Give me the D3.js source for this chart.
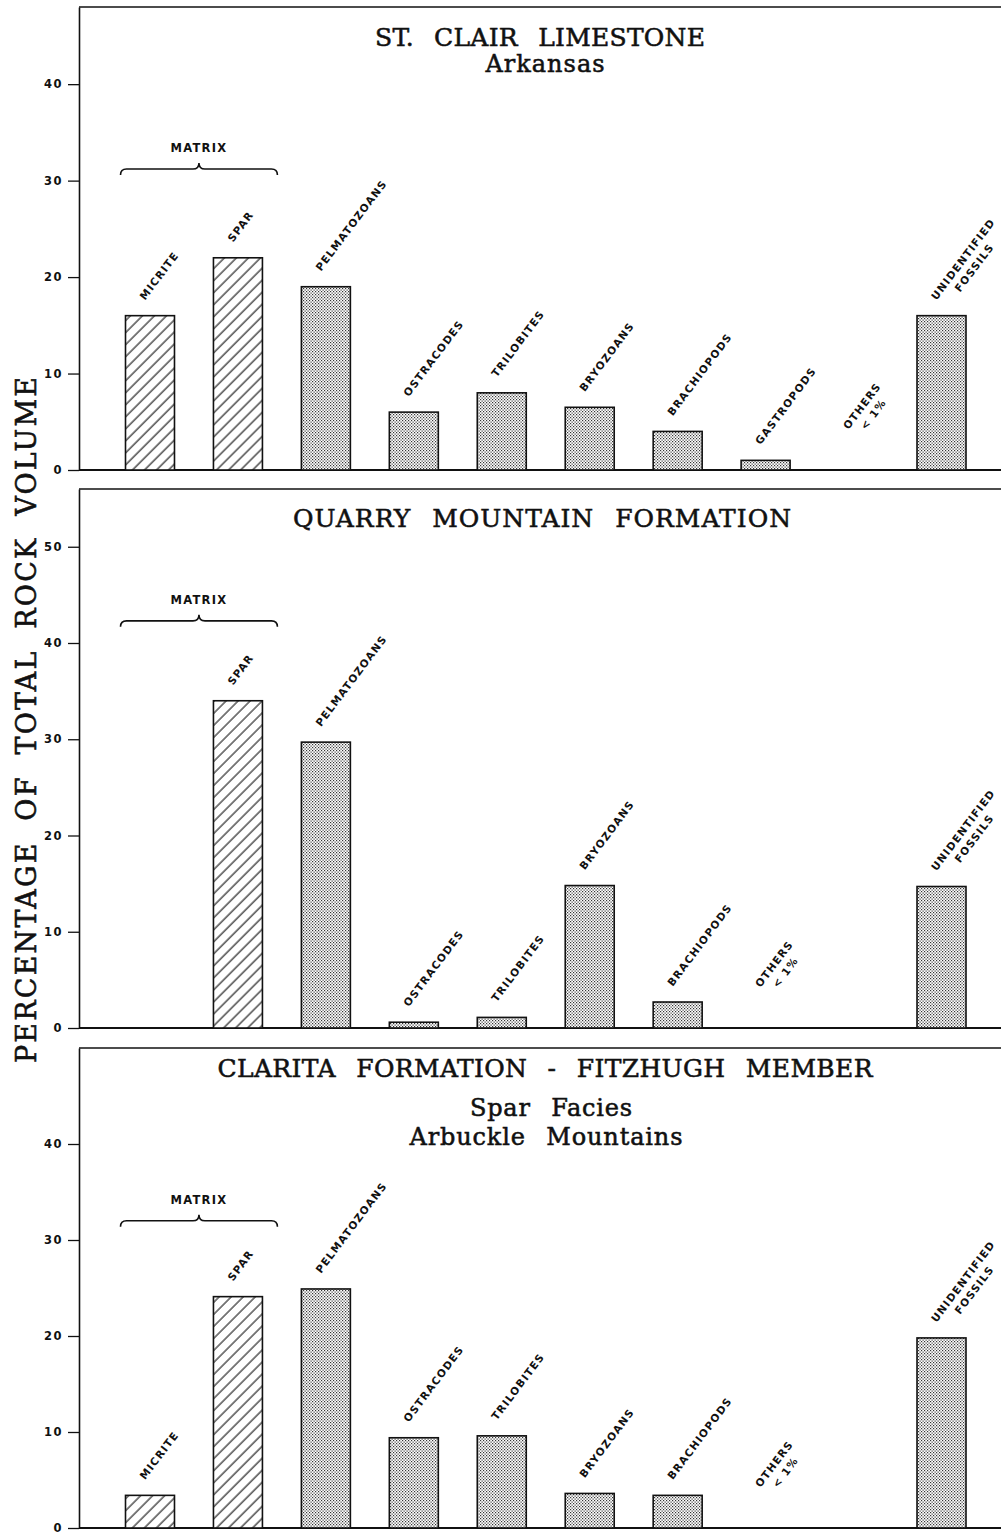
<!DOCTYPE html>
<html><head><meta charset="utf-8">
<script src="https://cdn.jsdelivr.net/npm/d3@7"></script>
<style>body{margin:0;background:#fff}</style>
</head><body>
<svg id="c" width="1001" height="1534" xmlns="http://www.w3.org/2000/svg"></svg>
<script>
// ---------- DATA ----------
const slotIndex = d3.range(10);
const stClairCategories = ["MICRITE","SPAR","PELMATOZOANS","OSTRACODES","TRILOBITES","BRYOZOANS","BRACHIOPODS","GASTROPODS","OTHERS\n< 1%","UNIDENTIFIED\nFOSSILS"];
const stClairValues     = [16, 22, 19, 6, 8, 6.5, 4, 1, 0, 16];
const quarryCategories  = [null,"SPAR","PELMATOZOANS","OSTRACODES","TRILOBITES","BRYOZOANS","BRACHIOPODS","OTHERS\n< 1%",null,"UNIDENTIFIED\nFOSSILS"];
const quarryValues      = [null, 34, 29.7, 0.6, 1.1, 14.8, 2.7, 0, null, 14.7];
const claritaCategories = ["MICRITE","SPAR","PELMATOZOANS","OSTRACODES","TRILOBITES","BRYOZOANS","BRACHIOPODS","OTHERS\n< 1%",null,"UNIDENTIFIED\nFOSSILS"];
const claritaValues     = [3.4, 24.1, 24.9, 9.4, 9.6, 3.6, 3.4, 0, null, 19.8];
const matrixCategories  = ["MICRITE","SPAR"];
const stClairTicks = [0,10,20,30,40];
const quarryTicks  = [0,10,20,30,40,50];
const claritaTicks = [0,10,20,30,40];
const stClairTitle = ["ST. CLAIR LIMESTONE","Arkansas"];
const quarryTitle  = ["QUARRY MOUNTAIN FORMATION"];
const claritaTitle = ["CLARITA FORMATION - FITZHUGH MEMBER","Spar Facies","Arbuckle Mountains"];
const yAxisTitle = "PERCENTAGE OF TOTAL ROCK VOLUME";
const matrixLabel = "MATRIX";

// ---------- LAYOUT ----------
const INK = "#111";
const panels = [
  {cats: stClairCategories, vals: stClairValues, ticks: stClairTicks, max: 48, top: 7, bottom: 470,
   titles: stClairTitle, tY: [46, 72], tW: [330, 119], tX: [540, 545], tS: [25, 24], brace: 31.2},
  {cats: quarryCategories, vals: quarryValues, ticks: quarryTicks, max: 56, top: 489, bottom: 1028,
   titles: quarryTitle, tY: [527], tW: [498], tX: [542], tS: [25], brace: 42.3},
  {cats: claritaCategories, vals: claritaValues, ticks: claritaTicks, max: 50, top: 1048, bottom: 1528,
   titles: claritaTitle, tY: [1077, 1116, 1145], tW: [655, 162, 273], tX: [545, 551, 546], tS: [25, 24, 24], brace: 32}
];
const axisX = 79, rightX = 1001;
const labelAngle = -53;

const svg = d3.select("#c");
const defs = svg.append("defs");
const hatch = defs.append("pattern").attr("id","hatch").attr("patternUnits","userSpaceOnUse")
  .attr("width",8.5).attr("height",8.5).attr("patternTransform","rotate(45)");
hatch.append("rect").attr("width",8.5).attr("height",8.5).attr("fill","#fff");
hatch.append("line").attr("x1",1).attr("y1",0).attr("x2",1).attr("y2",8.5).attr("stroke",INK).attr("stroke-width",1.1);
const stip = defs.append("pattern").attr("id","stip").attr("patternUnits","userSpaceOnUse")
  .attr("width",3).attr("height",3);
stip.append("rect").attr("width",3).attr("height",3).attr("fill","#fff");
stip.append("rect").attr("x",0).attr("y",0).attr("width",1.2).attr("height",1.2).attr("fill","#333");
stip.append("rect").attr("x",1.5).attr("y",1.5).attr("width",1.2).attr("height",1.2).attr("fill","#333");

const x = d3.scaleBand().domain(slotIndex).range([125.5, 966]).paddingInner(0.443).paddingOuter(0);
const bw = x.bandwidth();

panels.forEach(p => {
  const y = d3.scaleLinear().domain([0, p.max]).range([p.bottom, p.top]);
  const g = svg.append("g");

  // titles
  p.titles.forEach((t, i) => {
    g.append("text").attr("x", p.tX[i]).attr("y", p.tY[i]).attr("text-anchor","middle")
      .attr("font-family","'DejaVu Serif', 'Liberation Serif', serif").attr("font-size", p.tS[i])
      .attr("word-spacing", 12).attr("textLength", p.tW[i]).attr("lengthAdjust","spacing")
      .attr("fill", INK).attr("stroke", INK).attr("stroke-width", 0.55).text(t);
  });

  // frame lines
  g.append("line").attr("x1", axisX).attr("x2", rightX).attr("y1", y(p.max)).attr("y2", y(p.max))
    .attr("stroke", INK).attr("stroke-width", 1.6);
  g.append("line").attr("x1", axisX).attr("x2", rightX).attr("y1", y(0)).attr("y2", y(0))
    .attr("stroke", INK).attr("stroke-width", 1.8);

  // y axis
  g.append("g").attr("transform", `translate(${axisX},0)`)
    .call(d3.axisLeft(y).tickValues(p.ticks).tickSize(11).tickPadding(5).tickSizeOuter(0))
    .call(a => {
      a.select(".domain").attr("stroke", INK).attr("stroke-width", 1.6);
      a.selectAll(".tick line").attr("stroke", INK).attr("stroke-width", 1.3);
      a.selectAll(".tick text").attr("font-family","'DejaVu Sans', sans-serif").attr("font-weight","bold")
        .attr("font-size", 11.5).attr("letter-spacing", 1.5).attr("fill", INK);
    });

  // bars
  const barData = slotIndex.filter(i => p.cats[i] !== null && p.vals[i] > 0);
  g.selectAll("rect.bar").data(barData).join("rect").attr("class","bar")
    .attr("x", i => x(i)).attr("width", bw)
    .attr("y", i => y(p.vals[i])).attr("height", i => y(0) - y(p.vals[i]))
    .attr("fill", i => matrixCategories.includes(p.cats[i]) ? "url(#hatch)" : "url(#stip)")
    .attr("stroke", INK).attr("stroke-width", 1.6);

  // bar labels
  slotIndex.filter(i => p.cats[i] !== null).forEach(i => {
    const cx = x(i) + bw / 2;
    const v = p.vals[i];
    const yTop = v > 0 ? y(v) : y(0) - 25;
    const lg = g.append("g").attr("transform", `translate(${cx - 5},${yTop - 15}) rotate(${labelAngle})`);
    const lines = p.cats[i].split("\n");
    const style = s => s.attr("font-family","'DejaVu Sans', sans-serif").attr("font-weight","bold")
      .attr("font-size", 10.5).attr("letter-spacing", 1.2).attr("fill", INK);
    const t1 = lg.append("text").attr("x", 0).attr("y", 0).call(style).text(lines[0]);
    if (lines.length > 1) {
      const w1 = t1.node().getComputedTextLength();
      lg.append("text").attr("x", w1 / 2).attr("y", 14).attr("text-anchor","middle").call(style).text(lines[1]);
    }
  });

  // MATRIX brace
  const by = y(p.brace);
  const x0 = x(0) - 5, x1 = x(1) + bw + 15, xm = (x0 + x1) / 2;
  g.append("path")
    .attr("d", `M${x0},${by + 6} Q${x0},${by} ${x0 + 6},${by} L${xm - 6},${by} Q${xm},${by} ${xm},${by - 6} Q${xm},${by} ${xm + 6},${by} L${x1 - 6},${by} Q${x1},${by} ${x1},${by + 6}`)
    .attr("fill","none").attr("stroke", INK).attr("stroke-width", 1.6);
  g.append("text").attr("x", xm).attr("y", by - 17).attr("text-anchor","middle")
    .attr("font-family","'DejaVu Sans', sans-serif").attr("font-weight","bold")
    .attr("font-size", 11.5).attr("letter-spacing", 1.3).attr("fill", INK).text(matrixLabel);
});

// y axis title
svg.append("text").attr("transform","translate(36,720) rotate(-90)").attr("text-anchor","middle")
  .attr("font-family","'DejaVu Serif', 'Liberation Serif', serif").attr("font-size", 27)
  .attr("word-spacing", 10).attr("textLength", 686).attr("lengthAdjust","spacing")
  .attr("fill", INK).attr("stroke", INK).attr("stroke-width", 0.6).text(yAxisTitle);
</script>
</body></html>
